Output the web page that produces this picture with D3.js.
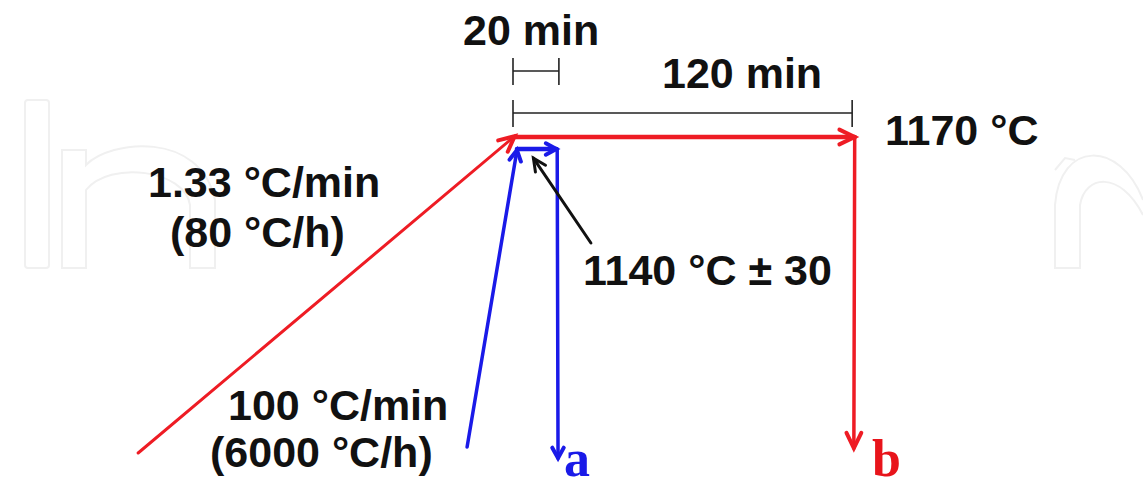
<!DOCTYPE html>
<html><head><meta charset="utf-8">
<script src="https://cdn.jsdelivr.net/npm/d3@7"></script>
<style>body{margin:0;background:#fff;overflow:hidden}</style>
</head><body>
<svg id="c" width="1143" height="489"></svg>
<script>
// schematic data: time (min, 0 = start of hold) vs temperature (°C)
const redSegments = [
  [[-132.3, 380], [0.6, 1172]],
  [[0.6, 1170], [120.6, 1170]],
  [[120.6, 1170], [120.3, 392]]
];
const blueSegments = [
  [[-16.2, 395], [1.4, 1137]],
  [[1.4, 1140], [15.3, 1140]],
  [[15.6, 1140], [15.9, 367]]
];
const pointerArrow = [[27.5, 905], [7.2, 1117]];
const dimBars = [
  {label: "20 min", from: 0, to: 16.2, T: 1335},
  {label: "120 min", from: 0, to: 119.7, T: 1230}
];
const labels = [
  {text: "20 min",        px: 463, py: 45},
  {text: "120 min",       px: 662, py: 88},
  {text: "1170 °C",       px: 885, py: 145},
  {text: "1.33 °C/min",   px: 148, py: 197},
  {text: "(80 °C/h)",     px: 170, py: 247},
  {text: "1140 °C ± 30",  px: 583, py: 285},
  {text: "100 °C/min",    px: 228, py: 420},
  {text: "(6000 °C/h)",   px: 210, py: 467}
];
const curveLabels = [
  {text: "a", color: "#1a1ae8", px: 564, py: 476},
  {text: "b", color: "#e8141b", px: 872, py: 476}
];

const svg = d3.select("#c");
const x = d3.scaleLinear().domain([0, 120]).range([513, 853]);
const y = d3.scaleLinear().domain([1140, 1170]).range([149, 137]);

// faint watermark
const wm = svg.append("g").attr("fill", "none").attr("stroke", "#f0f0f0").attr("stroke-width", 2);
wm.append("rect").attr("x", 25).attr("y", 100).attr("width", 24).attr("height", 168).attr("rx", 3);
wm.append("path").attr("d", "M62,268 L62,150 L86,150 L86,165 C110,140 200,130 215,200 L215,268 L190,268 L190,205 C185,170 110,160 86,190 L86,268 Z");
wm.append("path").attr("d", "M1143,200 C1120,140 1060,140 1055,205 L1055,268 L1080,268 L1080,205 C1085,175 1120,170 1143,215");
wm.append("path").attr("d", "M1055,170 L1065,158 L1075,160");

function arrowSeg(g, seg, color, width, head) {
  const p0 = [x(seg[0][0]), y(seg[0][1])];
  const p1 = [x(seg[1][0]), y(seg[1][1])];
  g.append("line").attr("x1", p0[0]).attr("y1", p0[1]).attr("x2", p1[0]).attr("y2", p1[1])
    .attr("stroke", color).attr("stroke-width", width).attr("stroke-linecap", "round");
  const a = Math.atan2(p1[1] - p0[1], p1[0] - p0[0]);
  const L = head.len, ang = head.ang;
  const b1 = [p1[0] - L * Math.cos(a - ang), p1[1] - L * Math.sin(a - ang)];
  const b2 = [p1[0] - L * Math.cos(a + ang), p1[1] - L * Math.sin(a + ang)];
  g.append("path").attr("d", `M${b1[0]},${b1[1]} L${p1[0]},${p1[1]} L${b2[0]},${b2[1]}`)
    .attr("fill", "none").attr("stroke", color).attr("stroke-width", head.w)
    .attr("stroke-linejoin", "miter").attr("stroke-linecap", "round");
}

// dimension bars
const dg = svg.append("g").attr("stroke", "#222").attr("stroke-width", 1.6);
dimBars.forEach(d => {
  const yy = y(d.T);
  dg.append("line").attr("x1", x(d.from)).attr("x2", x(d.to)).attr("y1", yy).attr("y2", yy);
  [d.from, d.to].forEach(t => dg.append("line").attr("x1", x(t)).attr("x2", x(t)).attr("y1", yy - 13).attr("y2", yy + 14));
});

const rg = svg.append("g");
const redW = [3, 4.5, 3.5];
redSegments.forEach((s, i) => arrowSeg(rg, s, "#ee1c24", redW[i], {len: 17, ang: 0.45, w: 4}));
const bg = svg.append("g");
const blueW = [3.5, 4.5, 3.5];
blueSegments.forEach((s, i) => arrowSeg(bg, s, "#1a1ae8", blueW[i], {len: 12, ang: 0.5, w: 4}));
arrowSeg(svg.append("g"), pointerArrow, "#111", 3, {len: 14, ang: 0.45, w: 3});

svg.append("g").selectAll("text").data(labels).join("text")
  .attr("x", d => d.px).attr("y", d => d.py)
  .attr("font-family", "Liberation Sans, Arial, sans-serif").attr("font-weight", "bold")
  .attr("font-size", 43).attr("fill", "#111").text(d => d.text);

svg.append("g").selectAll("text").data(curveLabels).join("text")
  .attr("x", d => d.px).attr("y", d => d.py)
  .attr("font-family", "Liberation Serif, Times New Roman, serif").attr("font-weight", "bold")
  .attr("font-size", 52).attr("fill", d => d.color).text(d => d.text);
</script>
</body></html>
